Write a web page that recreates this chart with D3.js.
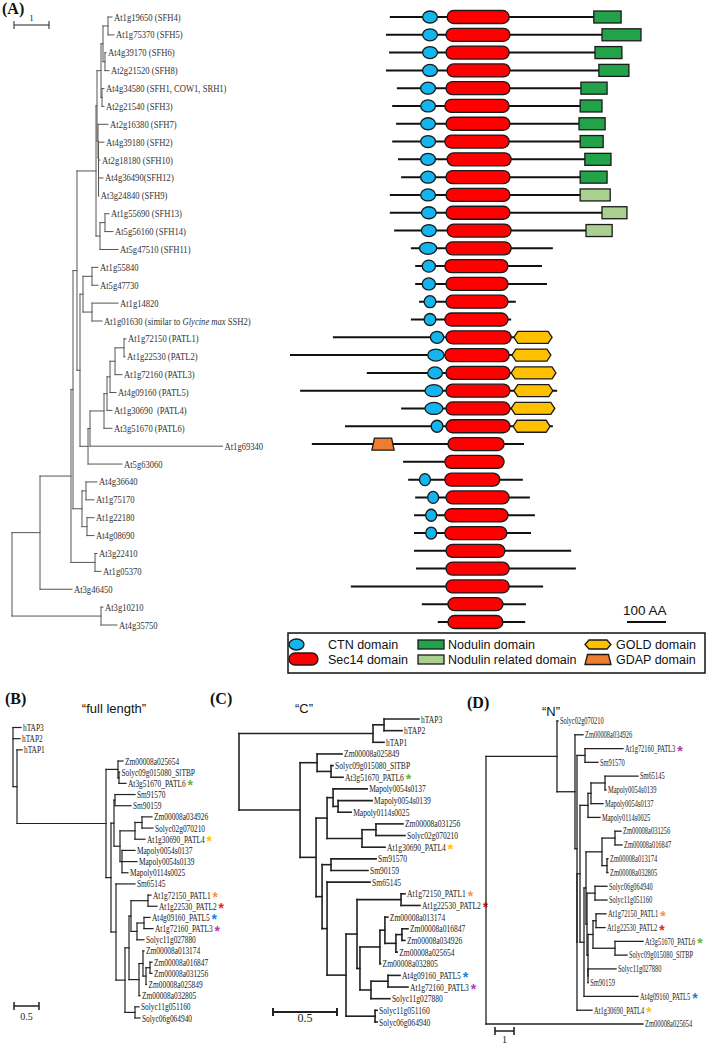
<!DOCTYPE html>
<html><head><meta charset="utf-8">
<script src="https://cdn.jsdelivr.net/npm/d3@7"></script>
<style>body{margin:0;background:#fff}svg{display:block}text{white-space:pre}</style>
</head><body>
<svg id="fig" width="708" height="1063"></svg>
<script>
// ---------------- DATA ----------------
// Panel A tree: [node, parent, branch length]
const treeA = [
["R","",0],["X","R",0.80],["Z","X",0.886],["Z2","Z",0.057],["Z3","Z2",0.114],["S","Z3",0.543],
["SB","S",0.029],["SB1","SB",0.114],["SB2","SB1",0.057],["SB3","SB2",0.143],
["At1g19650 (SFH4)","SB3",0.114],["At1g75370 (SFH5)","SB3",0.171],
["SB4","SB2",0.057],["At4g39170 (SFH6)","SB4",0.029],["At2g21520 (SFH8)","SB4",0.114],
["SB5","SB1",0.029],["At4g34580 (SFH1, COW1, SRH1)","SB5",0.057],["At2g21540 (SFH3)","SB5",0.057],
["SB6","SB",0.029],["At2g16380 (SFH7)","SB6",0.286],["SB7","SB6",0.014],["At4g39180 (SFH2)","SB7",0.157],
["SB8","SB7",0],["At2g18180 (SFH10)","SB8",0.043],["SB9","SB8",0],["At4g36490(SFH12)","SB9",0.129],["At3g24840 (SFH9)","SB9",0.01],
["SA","S",0.114],["SA1","SA",0.143],["At1g55690 (SFH13)","SA1",0.114],["At5g56160 (SFH14)","SA1",0.229],["At5g47510 (SFH11)","SA",0.514],
["Z4","Z3",0.086],["C3","Z4",0.086],["C3a","C3",0.257],["At1g55840","C3a",0.171],["At5g47730","C3a",0.171],
["C3b","C3",0.257],["At1g14820","C3b",0.743],["At1g01630 (similar to Glycine max SSH2)","C3b",0.286],
["P","Z4",0.229],["P2","P",0.057],["PA","P2",0.4],["PB","PA",0.086],["PC","PB",0.086],["PD","PC",0.143],["PE","PD",0.257],
["At1g72150 (PATL1)","PE",0.057],["At1g22530 (PATL2)","PE",0.029],["At1g72160 (PATL3)","PD",0.2],
["At4g09160 (PATL5)","PC",0.171],["At1g30690  (PATL4)","PB",0.143],["At3g51670 (PATL6)","PA",0.229],
["At1g69340","P2",3.786],["At5g63060","P",0.971],
["C2","Z2",0.257],["C2a","C2",0.114],["At4g36640","C2a",0.314],["At1g75170","C2a",0.229],
["C2b","C2",0.143],["At1g22180","C2b",0.2],["At4g08690","C2b",0.2],
["C1","Z",0.686],["At3g22410","C1",0.057],["At1g05370","C1",0.171],
["At3g46450","X",0.914],["Y","R",2.543],["At3g10210","Y",0.057],["At4g35750","Y",0.457]
];

// Panel A domain architecture (positions in amino acids, aligned on Sec14)
const protStart = [256,246,254,246,274,262,272,262,277,285,256,256,267,310,321,321,331,310,110,0,197,26,285,141,56,290,303,321,318,318,318,323,156,338,379];
const protEnd   = [849,900,851,869,813,800,808,803,823,813,821,864,826,674,646,659,579,567,672,669,682,685,679,674,600,549,597,615,628,618,721,733,649,605,603];
const ctnStart  = [340,340,340,340,335,335,335,335,335,335,335,337,337,332,339,339,344,344,360,353,353,346,346,362,null,null,332,353,348,348,null,null,null,null,null];
const ctnEnd    = [378,378,378,378,373,373,373,373,373,373,373,375,375,376,373,373,374,374,394,395,391,392,392,392,null,null,360,381,376,376,null,null,null,null,null];
const sec14Start= [403,400,400,403,400,397,400,397,403,400,400,400,403,400,397,400,400,397,400,397,400,400,400,400,405,397,397,400,397,397,400,400,400,405,405];
const sec14End  = [562,564,562,564,564,562,564,562,567,564,564,564,567,567,559,559,559,559,567,562,564,564,564,564,549,549,538,562,559,556,551,562,562,546,546];
const extraType = ["N","N","N","N","N","N","N","N","N","N","R","R","R",null,null,null,null,null,"G","G","G","G","G","G","D",null,null,null,null,null,null,null,null,null,null];
const extraStart= [779,800,782,792,746,744,741,744,756,744,744,800,759,null,null,null,null,null,574,569,567,574,567,572,210,null,null,null,null,null,null,null,null,null,null];
const extraEnd  = [849,900,851,869,813,800,808,803,823,813,821,864,826,null,null,null,null,null,672,669,682,674,679,667,267,null,null,null,null,null,null,null,null,null,null];

const legendItems = [
  ["CTN domain","C"],["Sec14 domain","S"],["Nodulin domain","N"],
  ["Nodulin related domain","R"],["GOLD domain","G"],["GDAP domain","D"]
];

// Panel B "full length"
const treeB = [
["rB","",0],["hTAP3","rB",0.16],["hTAP2","rB",0.14],["N1","rB",0.08],["hTAP1","N1",0.10],["IN","N1",1.78],
["G1","IN",0.24],["Zm00008a025654","G1",0.10],["G1b","G1",0.02],["Solyc09g015080_SlTBP","G1b",0.01],["At3g51670_PATL6","G1b",0.14],
["G2","IN",0.10],["G3","G2",0.06],["SmP","G3",0.02],["Sm91570","SmP",0.40],["Sm90159","SmP",0.32],
["G5","G3",0.12],["P4c","G5",0.30],["G6","P4c",0.14],["Zm00008a034926","G6",0.20],["Solyc02g070210","G6",0.22],["At1g30690_PATL4","P4c",0.20],
["Map","G5",0.04],["Mapoly0054s0137","Map",0.26],["Mapoly0054s0139","Map",0.30],["Mapoly0114s0025","Map",0.12],
["G7","G2",0.10],["Sm65145","G7",0.38],["G8","G7",0.18],["G9","G8",0.08],["PX","G9",0.04],
["PA","PX",0.34],["At1g72150_PATL1","PA",0.06],["At1g22530_PATL2","PA",0.18],
["PB","PX",0.12],["PC","PB",0.14],["At4g09160_PATL5","PC",0.12],["At1g72160_PATL3","PC",0.18],["Solyc11g027880","PB",0.14],
["Zm","G9",0.20],["Zm1","Zm",0.08],["Zm00008a013174","Zm1",0.02],["Zm2","Zm1",0.06],["Zm3","Zm2",0.08],
["Zm00008a016847","Zm3",0.04],["Zm00008a031256","Zm3",0.04],["Zm00008a025849","Zm2",0.01],["Zm00008a032805","Zm",0.02],
["Sol2","G8",0.20],["Solyc11g051160","Sol2",0.08],["Solyc06g064940","Sol2",0.10]
];

// Panel C "C"
const treeC = [
["rC","",0],["H","rC",1.047],["H1","H",0.086],["hTAP3","H1",0.273],["hTAP2","H1",0.141],["hTAP1","H",0.086],
["I","rC",0.477],["I1","I",0.133],["Zm00008a025849","I1",0.195],["I1b","I1",0.109],
["Solyc09g015080_SlTBP","I1b",0.016],["At3g51670_PATL6","I1b",0.094],
["I2","I",0.125],["I3","I2",0.086],["Mp","I3",0.047],["Mapoly0054s0137","Mp",0.266],["M1","Mp",0.039],
["Mapoly0054s0139","M1",0.266],["Mapoly0114s0025","M1",0.102],
["P4c","I3",0.273],["P4a","P4c",0.109],["Zm00008a031256","P4a",0.211],["Solyc02g070210","P4a",0.227],["At1g30690_PATL4","P4c",0.180],
["I4","I2",0.047],["SmP","I4",0.07],["Sm91570","SmP",0.352],["Sm90159","SmP",0.289],
["I5","I4",0.039],["Sm65145","I5",0.336],["I6","I5",0.148],["I7","I6",0.086],
["P12","I7",0.344],["At1g72150_PATL1","P12",0.031],["At1g22530_PATL2","P12",0.148],
["I8","I7",0.023],["Zmc","I8",0.156],["Zm1","Zmc",0.039],["Zm00008a013174","Zm1",0.023],["Zm2","Zm1",0.086],
["Zm3","Zm2",0.047],["Zm00008a016847","Zm3",0.047],["Zm00008a034926","Zm3",0.023],["Zm00008a025654","Zm2",0.01],
["Zm00008a032805","Zmc",0.005],
["PB","I8",0.086],["PC","PB",0.133],["At4g09160_PATL5","PC",0.094],["At1g72160_PATL3","PC",0.156],["Solyc11g027880","PB",0.148],
["Sol2","I6",0.227],["Solyc11g051160","Sol2",0.016],["Solyc06g064940","Sol2",0.016]
];

// Panel D "N"
const treeD = [
["rD","",0],["D1","rD",3.737],["Solyc02g070210","D1",0.053],["D2","D1",0.947],["Zm00008a034926","D2",0.421],
["D3","D2",0.105],["D4","D3",0.421],["At1g72160_PATL3","D4",2.0],["Sm91570","D4",0.684],
["D5","D3",0],["D6","D5",0.158],["Mc","D6",0.421],["Mb","Mc",0.158],["Ma","Mb",0.737],
["Sm65145","Ma",1.737],["Mapoly0054s0139","Ma",0.053],["Mapoly0054s0137","Mb",0.632],["Mapoly0114s0025","Mc",0.632],
["D7","D6",0.211],["D8","D7",0.105],["Zmc","D8",0.842],["Zm1","Zmc",0.684],
["Zm00008a031256","Zm1",0.316],["Zm00008a016847","Zm1",0.368],["Zm2","Zmc",0.263],
["Zm00008a013174","Zm2",0.053],["Zm00008a032805","Zm2",0.053],
["D9","D8",0.053],["Sol2","D9",0.421],["Solyc06g064940","Sol2",0.632],["Solyc11g051160","Sol2",0.632],
["D10","D9",0.053],["D11","D10",0.263],["P12","D11",0.158],["At1g72150_PATL1","P12",0.526],["At1g22530_PATL2","P12",0.474],
["P6","D11",1.158],["At3g51670_PATL6","P6",1.474],["Solyc09g015080_SlTBP","P6",0.632],
["D12","D10",0],["Solyc11g027880","D12",1.474],["Sm90159","D12",0.01],
["At4g09160_PATL5","D7",2.842],["At1g30690_PATL4","D5",0.789],["Zm00008a025654","rD",8.263]
];

// PATL highlight asterisks
const patlStars = [
  ["At1g72150_PATL1","#f7944a"],["At1g22530_PATL2","#ff1616"],["At1g72160_PATL3","#b03cb0"],
  ["At1g30690_PATL4","#ffc20e"],["At4g09160_PATL5","#1c7ed6"],["At3g51670_PATL6","#6db33f"]
];

const panelLabels = [["(A)",2,14],["(B)",5,704],["(C)",210,704],["(D)",467,708]];
const panelTitles = [["\u201Cfull length\u201D",114,713],["\u201CC\u201D",304,713],["\u201CN\u201D",551,716]];

// ---------------- DRAW ----------------
const svg = d3.select('#fig');
const serif = '"Liberation Serif","Times New Roman",serif';
const sans = '"Liberation Sans",Arial,sans-serif';

function drawTree(rows, cfg) {
  const g = svg.append('g');
  const root = d3.stratify().id(d => d[0]).parentId(d => d[1])(rows);
  root.eachBefore(n => { n.dist = n.parent ? n.parent.dist + n.data[2] : 0; });
  const leaves = root.leaves();
  const y = d3.scaleLinear().domain([0, leaves.length - 1]).range(cfg.yRange);
  leaves.forEach((l, i) => { l.yy = y(i); });
  root.eachAfter(n => { if (n.children) n.yy = (n.children[0].yy + n.children[n.children.length - 1].yy) / 2; });
  const x = cfg.x;
  const lg = g.append('g').attr('stroke', cfg.stroke).attr('stroke-width', cfg.sw).attr('fill', 'none').attr('stroke-linecap', 'square');
  lg.selectAll('path.h').data(root.descendants().filter(n => n.parent)).join('path')
    .attr('d', n => `M${x(n.parent.dist)},${n.yy}H${x(n.dist)}`);
  lg.selectAll('path.v').data(root.descendants().filter(n => n.children)).join('path')
    .attr('d', n => `M${x(n.dist)},${n.children[0].yy}V${n.children[n.children.length - 1].yy}`);
  const lab = g.append('g').attr('font-family', serif).attr('font-size', cfg.fs).attr('fill', cfg.fill);
  leaves.forEach(l => {
    const lx = x(l.dist) + cfg.pad;
    const t = lab.append('text').attr('transform', `translate(${lx},${l.yy + cfg.dy}) scale(${cfg.sx},1)`);
    const name = l.id;
    if (name.includes('Glycine max')) {
      const parts = name.split('Glycine max');
      t.append('tspan').text(parts[0]);
      t.append('tspan').attr('font-style', 'italic').text('Glycine max');
      t.append('tspan').text(parts[1]);
    } else t.text(name);
    const st = (cfg.stars || []).find(s => s[0] === name);
    if (st) {
      const w = t.node().getComputedTextLength() * cfg.sx;
      g.append('text').attr('x', lx + w + 2).attr('y', l.yy + 7).attr('fill', st[1])
        .attr('font-family', sans).attr('font-weight', 'bold').attr('font-size', 14).text('*');
    }
  });
  return root;
}

function scaleBar(x0, y0, len, label, fs, sw, ly) {
  const g = svg.append('g').attr('stroke', '#222').attr('stroke-width', sw);
  g.append('path').attr('d', `M${x0},${y0}H${x0 + len}M${x0},${y0 - 4}V${y0 + 4}M${x0 + len},${y0 - 4}V${y0 + 4}`);
  svg.append('text').attr('x', x0 + len / 2).attr('y', ly).attr('text-anchor', 'middle')
    .attr('font-family', serif).attr('font-size', fs).attr('fill', '#222').text(label);
}

// Panel A tree
const xA = d3.scaleLinear().domain([0, 1]).range([12, 47]);
drawTree(treeA, {x: xA, yRange: [17, 625], stroke: '#555', sw: 1, fs: 10, sx: 0.86, dy: 3.5, pad: 2, fill: '#333'});
scaleBar(xA(0) + 2, 25, xA(1) - xA(0), '1', 9, 1, 21);

// Panel A domains
const xAA = d3.scaleLinear().domain([0, 1000]).range([290, 680]);
const yDom = d3.scaleLinear().domain([0, protStart.length - 1]).range([17, 622]);
const idx = d3.range(protStart.length);
const col = {C: '#14b4ec', S: '#ff0000', N: '#22a34a', R: '#a9d08e', G: '#ffc000', D: '#ed7d31'};
const gd = svg.append('g');
gd.selectAll('line').data(idx).join('line')
  .attr('x1', i => xAA(protStart[i])).attr('x2', i => xAA(protEnd[i]))
  .attr('y1', i => yDom(i)).attr('y2', i => yDom(i)).attr('stroke', '#111').attr('stroke-width', 2);
const stroke = {stroke: '#1a1a1a', sw: 1.3};
function shape(g, type, x0, x1, yc, h) {
  let el;
  if (type === 'S') el = g.append('rect').attr('x', x0).attr('width', x1 - x0).attr('y', yc - h / 2).attr('height', h).attr('rx', h / 2);
  else if (type === 'C') el = g.append('ellipse').attr('cx', (x0 + x1) / 2).attr('rx', (x1 - x0) / 2).attr('cy', yc).attr('ry', h / 2);
  else if (type === 'N' || type === 'R') el = g.append('rect').attr('x', x0).attr('width', x1 - x0).attr('y', yc - h / 2).attr('height', h);
  else if (type === 'G') el = g.append('path').attr('d', `M${x0},${yc}L${x0 + 4},${yc - h / 2}H${x1 - 4}L${x1},${yc}L${x1 - 4},${yc + h / 2}H${x0 + 4}Z`);
  else if (type === 'D') el = g.append('path').attr('d', `M${x0},${yc + h / 2}L${x0 + 2.5},${yc - h / 2}H${x1 - 2.5}L${x1},${yc + h / 2}Z`);
  el.attr('fill', col[type]).attr('stroke', stroke.stroke).attr('stroke-width', stroke.sw);
  return el;
}
idx.forEach(i => {
  const yc = yDom(i);
  if (extraType[i]) shape(gd, extraType[i], xAA(extraStart[i]), xAA(extraEnd[i]), yc, 12);
  shape(gd, 'S', xAA(sec14Start[i]), xAA(sec14End[i]), yc, 13);
  if (ctnStart[i] != null) shape(gd, 'C', xAA(ctnStart[i]), xAA(ctnEnd[i]), yc, 12);
});

// 100 AA scale bar
svg.append('line').attr('x1', 627).attr('x2', 627 + xAA(100) - xAA(0)).attr('y1', 622).attr('y2', 622).attr('stroke', '#111').attr('stroke-width', 2);
svg.append('text').attr('x', 623).attr('y', 615).attr('font-family', sans).attr('font-size', 13.5).attr('fill', '#111').text('100 AA');

// Legend
const leg = svg.append('g');
leg.append('rect').attr('x', 288).attr('y', 633).attr('width', 417).attr('height', 40).attr('fill', 'none').attr('stroke', '#111').attr('stroke-width', 1.5);
const legPos = {C: [289, 304, 644.5, 11, 328], S: [289, 318, 659, 12, 328], N: [418, 444, 644.5, 9, 448], R: [418, 444, 659.5, 9, 448], G: [585, 611, 644.5, 9, 616], D: [585, 611, 659.5, 10, 616]};
legendItems.forEach(([txt, t]) => {
  const p = legPos[t];
  shape(leg, t, p[0], p[1], p[2], p[3]);
  leg.append('text').attr('x', p[4]).attr('y', p[2] + 4.5).attr('font-family', sans).attr('font-size', 12.5).attr('fill', '#111').text(txt);
});

// Panel B
const xB = d3.scaleLinear().domain([0, 1]).range([13, 63]);
drawTree(treeB, {x: xB, yRange: [727.5, 1018], stroke: '#222', sw: 1.2, fs: 10, sx: 0.74, dy: 3.5, pad: 2, fill: '#222', stars: patlStars});
scaleBar(14, 1006, (xB(1) - xB(0)) * 0.5, '0.5', 10, 1.5, 1020);

// Panel C
const xC = d3.scaleLinear().domain([0, 1]).range([239, 367]);
drawTree(treeC, {x: xC, yRange: [719, 1022], stroke: '#222', sw: 1.6, fs: 10.5, sx: 0.72, dy: 3.5, pad: 2, fill: '#222', stars: patlStars});
scaleBar(273, 1012, (xC(1) - xC(0)) * 0.5, '0.5', 12, 2, 1022);

// Panel D
const xDn = d3.scaleLinear().domain([0, 1]).range([486, 505]);
drawTree(treeD, {x: xDn, yRange: [721, 1024], stroke: '#222', sw: 1.3, fs: 9.5, sx: 0.68, dy: 3.3, pad: 2, fill: '#222', stars: patlStars});
scaleBar(495, 1031, xDn(1) - xDn(0), '1', 10, 1.6, 1043);

// Panel labels & titles
panelLabels.forEach(([t, x, y]) => svg.append('text').attr('x', x).attr('y', y).attr('font-family', serif)
  .attr('font-weight', 'bold').attr('font-size', 16).attr('fill', '#111').text(t));
panelTitles.forEach(([t, x, y]) => svg.append('text').attr('x', x).attr('y', y).attr('text-anchor', 'middle')
  .attr('font-family', sans).attr('font-size', 13).attr('fill', '#111').text(t));
</script></body></html>
